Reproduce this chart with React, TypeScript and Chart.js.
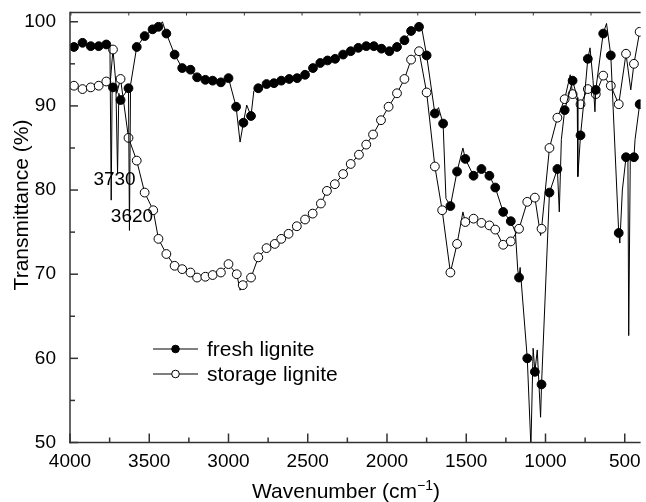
import React, { useEffect, useRef } from "react";
import { Chart, registerables } from "chart.js";

Chart.register(...registerables);

// ---- data (wavenumber in cm-1, transmittance in %) ----
// marked = 1 where the original plot shows a symbol
const freshWavenumber = [
  3975, 3921, 3869, 3819, 3771, 3748, 3740, 3734, 3729, 3710, 3700, 3692, 3681,
  3631, 3625, 3618, 3579, 3529, 3479, 3442, 3417, 3392, 3340, 3292, 3240, 3198,
  3146, 3100, 3048, 3000, 2952, 2927, 2906, 2885, 2858, 2840, 2812, 2760, 2713,
  2667, 2617, 2567, 2517, 2467, 2421, 2375, 2327, 2277, 2229, 2181, 2131, 2083,
  2035, 1985, 1937, 1890, 1848, 1798, 1785, 1750, 1698, 1675, 1646, 1628, 1600,
  1558, 1521, 1506, 1454, 1404, 1354, 1317, 1267, 1219, 1190, 1175, 1167, 1160,
  1115, 1092, 1078, 1067, 1052, 1031, 1025, 975, 925, 913, 900, 879, 829, 800,
  796, 779, 750, 733, 719, 700, 688, 683, 636, 615, 588, 538, 531, 515, 492, 480,
  475, 465, 442, 435, 406,
];
const freshTransmittance = [
  97.0, 97.5, 97.1, 97.1, 97.3, 97.0, 78.8, 92.5, 92.2, 92.0, 82.0, 91.5, 90.7,
  92.1, 75.2, 92.5, 97.0, 98.3, 99.1, 99.4, 100.0, 98.6, 96.1, 94.5, 94.3, 93.4,
  93.1, 93.0, 92.8, 93.3, 89.9, 85.7, 88.0, 90.1, 88.8, 91.8, 92.1, 92.6, 92.7,
  93.0, 93.2, 93.3, 93.7, 94.5, 95.1, 95.4, 95.6, 96.1, 96.5, 96.9, 97.1, 97.1,
  96.8, 96.5, 97.0, 97.8, 98.9, 99.4, 99.7, 96.0, 89.1, 89.8, 87.9, 79.0, 78.1,
  82.2, 85.0, 83.7, 81.7, 82.5, 81.7, 80.3, 77.4, 76.3, 75.0, 70.5, 69.6, 70.8,
  60.0, 49.5, 61.2, 58.4, 61.0, 53.0, 56.9, 79.7, 82.5, 77.4, 86.0, 89.5, 93.0, 91.0,
  81.6, 86.5, 92.0, 95.6, 96.9, 93.0, 89.3, 91.9, 98.6, 99.8, 96.0, 74.9, 73.7, 80.0,
  83.9, 84.0, 62.7, 84.0, 83.9, 86.0, 90.2,
];
const freshMarked = [
  1, 1, 1, 1, 1, 0, 0, 0, 1, 0, 0, 0, 1,
  1, 0, 0, 1, 1, 1, 1, 0, 1, 1, 1, 1, 1,
  1, 1, 1, 1, 1, 0, 1, 0, 1, 0, 1, 1, 1,
  1, 1, 1, 1, 1, 1, 1, 1, 1, 1, 1, 1, 1,
  1, 1, 1, 1, 1, 1, 0, 1, 1, 0, 1, 0, 1,
  1, 0, 1, 1, 1, 1, 1, 1, 1, 0, 0, 1, 0,
  1, 0, 0, 1, 0, 0, 1, 1, 1, 0, 0, 1, 1, 0,
  0, 1, 0, 1, 0, 0, 0, 1, 1, 0, 1, 1, 0, 0,
  1, 0, 0, 0, 1, 0, 1,
];

const storageWavenumber = [
  3975, 3921, 3869, 3819, 3771, 3745, 3729, 3705, 3681, 3631, 3579, 3529, 3475,
  3442, 3392, 3340, 3292, 3240, 3198, 3146, 3100, 3048, 3000, 2948, 2927, 2910,
  2858, 2812, 2760, 2708, 2667, 2621, 2569, 2517, 2469, 2417, 2379, 2329, 2277,
  2229, 2177, 2131, 2088, 2038, 1990, 1937, 1890, 1848, 1798, 1750, 1698, 1652,
  1600, 1558, 1521, 1506, 1454, 1404, 1354, 1317, 1267, 1219, 1167, 1115, 1067,
  1031, 1025, 975, 925, 879, 844, 829, 779, 733, 683, 636, 588, 538, 492, 462,
  442, 406,
];
const storageTransmittance = [
  92.4, 92.0, 92.2, 92.4, 92.9, 93.0, 96.7, 91.5, 93.2, 86.2, 83.5, 79.7, 77.6,
  74.2, 72.4, 71.0, 70.6, 70.2, 69.6, 69.7, 69.9, 70.2, 71.2, 70.0, 68.1, 68.7,
  69.6, 72.0, 73.1, 73.6, 74.2, 74.8, 75.7, 76.5, 77.2, 78.4, 79.9, 80.7, 81.9,
  83.1, 84.2, 85.4, 86.6, 88.3, 89.9, 91.5, 93.2, 95.5, 96.5, 91.6, 82.8, 77.6,
  70.2, 73.6, 77.4, 76.2, 76.6, 76.1, 75.8, 75.3, 73.5, 73.9, 75.4, 78.6, 79.1,
  74.6, 75.4, 85.0, 88.6, 90.8, 93.7, 91.4, 90.2, 92.0, 91.4, 93.6, 92.4, 90.2, 96.2, 91.9,
  95.0, 98.8,
];
const storageMarked = [
  1, 1, 1, 1, 1, 0, 1, 0, 1, 1, 1, 1, 1,
  1, 1, 1, 1, 1, 1, 1, 1, 1, 1, 1, 0, 1,
  1, 1, 1, 1, 1, 1, 1, 1, 1, 1, 1, 1, 1,
  1, 1, 1, 1, 1, 1, 1, 1, 1, 1, 1, 1, 1,
  1, 1, 0, 1, 1, 1, 1, 1, 1, 1, 1, 1, 1,
  0, 1, 1, 1, 1, 0, 1, 1, 1, 1, 1, 1, 1, 1, 0,
  1, 1,
];

const seriesNames = ["fresh lignite", "storage lignite"];
const xTickValues = [4000, 3500, 3000, 2500, 2000, 1500, 1000, 500];
const yTickValues = [50, 60, 70, 80, 90, 100];
const topTickValues = [3994, 3629, 3265, 2900, 2536, 2171, 1806, 1442, 1077, 713];
const annotationText = ["3730", "3620"];
const annotationWavenumber = [3719, 3609];
const annotationTransmittance = [81.2, 76.8];
const xTitle = "Wavenumber (cm";
const xTitleSup = "\u22121";
const yTitle = "Transmittance (%)";

const FONT = "'Liberation Sans', Arial, Helvetica, sans-serif";
const AXIS_COLOR = "#333";

const decorPlugin = {
  id: "decor",
  afterDraw(chart: any) {
    const { ctx, chartArea: a, scales } = chart;
    const x = scales.x;
    const y = scales.y;
    ctx.save();
    ctx.strokeStyle = AXIS_COLOR;
    ctx.lineWidth = 1.5;
    const seg = (x1: number, y1: number, x2: number, y2: number) => {
      ctx.beginPath();
      ctx.moveTo(x1, y1);
      ctx.lineTo(x2, y2);
      ctx.stroke();
    };
    // frame
    seg(a.left, a.top, a.right, a.top);
    seg(a.left, a.top - 0.75, a.left, a.bottom + 0.75);
    seg(a.left - 0.75, a.bottom, a.right, a.bottom);
    // x ticks (major + minor, inward)
    for (let v = 4000; v >= 500; v -= 250) {
      const px = x.getPixelForValue(v);
      const len = v % 500 === 0 ? 9 : 5;
      seg(px, a.bottom, px, a.bottom - len);
    }
    // y ticks
    for (let v = 50; v <= 100; v += 5) {
      const py = y.getPixelForValue(v);
      const len = v % 10 === 0 ? 8 : 5;
      seg(a.left, py, a.left + len, py);
    }
    // top ticks
    ctx.lineWidth = 1;
    for (const v of topTickValues) {
      const px = x.getPixelForValue(v);
      seg(px, a.top, px, a.top + 3);
    }

    // annotations
    ctx.fillStyle = "#000";
    ctx.font = `19px ${FONT}`;
    ctx.textAlign = "center";
    ctx.textBaseline = "middle";
    annotationText.forEach((t, i) => {
      ctx.fillText(
        t,
        x.getPixelForValue(annotationWavenumber[i]),
        y.getPixelForValue(annotationTransmittance[i])
      );
    });

    // legend
    const lx0 = 153;
    const lx1 = 198;
    const ly = [349, 374];
    ctx.strokeStyle = "#000";
    ctx.lineWidth = 1;
    seriesNames.forEach((name, i) => {
      seg(lx0, ly[i], lx1, ly[i]);
      ctx.beginPath();
      ctx.arc((lx0 + lx1) / 2, ly[i], 3.8, 0, Math.PI * 2);
      ctx.fillStyle = i === 0 ? "#000" : "#fff";
      ctx.fill();
      ctx.stroke();
      ctx.fillStyle = "#000";
      ctx.font = `21px ${FONT}`;
      ctx.textAlign = "left";
      ctx.textBaseline = "middle";
      ctx.fillText(name, 207, ly[i] + 1);
    });

    // x title with superscript
    ctx.font = `21px ${FONT}`;
    const wMain = ctx.measureText(xTitle).width;
    ctx.font = `14px ${FONT}`;
    const wSup = ctx.measureText(xTitleSup).width;
    ctx.font = `21px ${FONT}`;
    const wClose = ctx.measureText(")").width;
    const total = wMain + wSup + wClose;
    const cx = 346;
    const base = 498;
    let sx = cx - total / 2;
    ctx.textAlign = "left";
    ctx.textBaseline = "alphabetic";
    ctx.fillText(xTitle, sx, base);
    sx += wMain;
    ctx.font = `14px ${FONT}`;
    ctx.fillText(xTitleSup, sx, base - 8);
    sx += wSup;
    ctx.font = `21px ${FONT}`;
    ctx.fillText(")", sx, base);

    // y title
    ctx.save();
    ctx.translate(28, 205);
    ctx.rotate(-Math.PI / 2);
    ctx.textAlign = "center";
    ctx.textBaseline = "alphabetic";
    ctx.font = `21px ${FONT}`;
    ctx.fillText(yTitle, 0, 0);
    ctx.restore();

    ctx.restore();
  },
};

export default function App() {
  const ref = useRef<HTMLCanvasElement | null>(null);

  useEffect(() => {
    if (!ref.current) return;
    const mk = (wn: number[], t: number[]) => wn.map((w, i) => ({ x: w, y: t[i] }));
    const chart = new Chart(ref.current, {
      type: "line",
      data: {
        datasets: [
          {
            label: seriesNames[0],
            data: mk(freshWavenumber, freshTransmittance),
            borderColor: "#000",
            borderWidth: 1,
            pointRadius: (c: any) => (freshMarked[c.dataIndex] ? 4.4 : 0),
            pointBackgroundColor: "#000",
            pointBorderColor: "#000",
            pointBorderWidth: 1,
            tension: 0,
          },
          {
            label: seriesNames[1],
            data: mk(storageWavenumber, storageTransmittance),
            borderColor: "#000",
            borderWidth: 1,
            pointRadius: (c: any) => (storageMarked[c.dataIndex] ? 4.4 : 0),
            pointBackgroundColor: "#fff",
            pointBorderColor: "#000",
            pointBorderWidth: 1,
            tension: 0,
          },
        ],
      },
      options: {
        responsive: false,
        animation: false,
        devicePixelRatio: 1,
        layout: { padding: { top: 12.5, left: 0, right: 0, bottom: 0 } },
        plugins: {
          legend: { display: false },
          tooltip: { enabled: false },
        },
        scales: {
          x: {
            type: "linear",
            reverse: true,
            min: 400,
            max: 4000,
            grid: { display: false },
            border: { display: false },
            ticks: {
              color: "#000",
              font: { family: FONT, size: 19 },
              padding: 0,
              maxRotation: 0,
              autoSkip: false,
              callback: (v: any) => String(v),
            },
            afterBuildTicks: (s: any) => {
              s.ticks = xTickValues.map((v) => ({ value: v }));
            },
            afterFit: (s: any) => {
              s.height = 59.5;
              s.paddingLeft = 0;
              s.paddingRight = 0;
            },
          },
          y: {
            type: "linear",
            min: 50,
            max: 101.1,
            grid: { display: false },
            border: { display: false },
            ticks: {
              color: "#000",
              font: { family: FONT, size: 19 },
              padding: 6,
              autoSkip: false,
              callback: (v: any) => String(v),
            },
            afterBuildTicks: (s: any) => {
              s.ticks = yTickValues.map((v) => ({ value: v }));
            },
            afterFit: (s: any) => {
              s.width = 70;
              s.paddingTop = 0;
              s.paddingBottom = 0;
            },
          },
        },
      },
      plugins: [decorPlugin],
    } as any);
    return () => chart.destroy();
  }, []);

  return (
    <div style={{ position: "absolute", left: 0, top: 0, width: 646, height: 502, background: "#fff" }}>
      <canvas ref={ref} width={646} height={502} />
    </div>
  );
}
